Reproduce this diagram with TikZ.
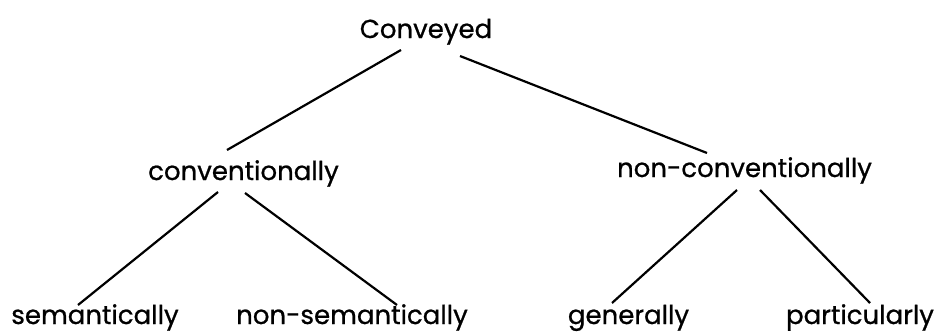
\documentclass[tikz,border=0pt]{standalone}
\usepackage{fontspec}
\setmainfont{Poppins}[FakeBold=0.8]
\usepackage{tikz}
\usetikzlibrary{calc, positioning}
\newcommand{\branch}[6]
{
	\draw ($(#1.base)+(#2,#3)$) -- ($(#4.base)+(#5,#6)$)
}

\begin{document}
\begin{tikzpicture}[x=1pt, y=1pt,
every node/.append style={shape=rectangle, inner sep=0pt, anchor=base,
	font=\fontsize{26}{30}\selectfont},
line width=2.2pt]
\useasboundingbox (0,0) rectangle (944,333);

\node at (426, 295) (Conv){Conveyed};

\node at (243.5, 153) (C1){conventionally};
\node at (744.5, 156) (C2){non-conventionally};

\node at (95, 9) (S1){semantically};
\node at (352, 9) (S2){non-semantically};
\node at (628.5, 9) (P1){generally};
\node at (860, 9) (P2){particularly};

\branch{Conv}{-25}{-12}{C1}{-16.5}{30};
\branch{Conv}{34}{-18}{C2}{-37.5}{24};
\branch{C1}{-25.5}{-12}{S1}{-17}{19};
\branch{C1}{1.5}{-13}{S2}{45}{19};
\branch{C2}{-7.5}{-13}{P1}{-16.5}{21};
\branch{C2}{15.5}{-13}{P2}{10}{21};
\end{tikzpicture}
\end{document}
